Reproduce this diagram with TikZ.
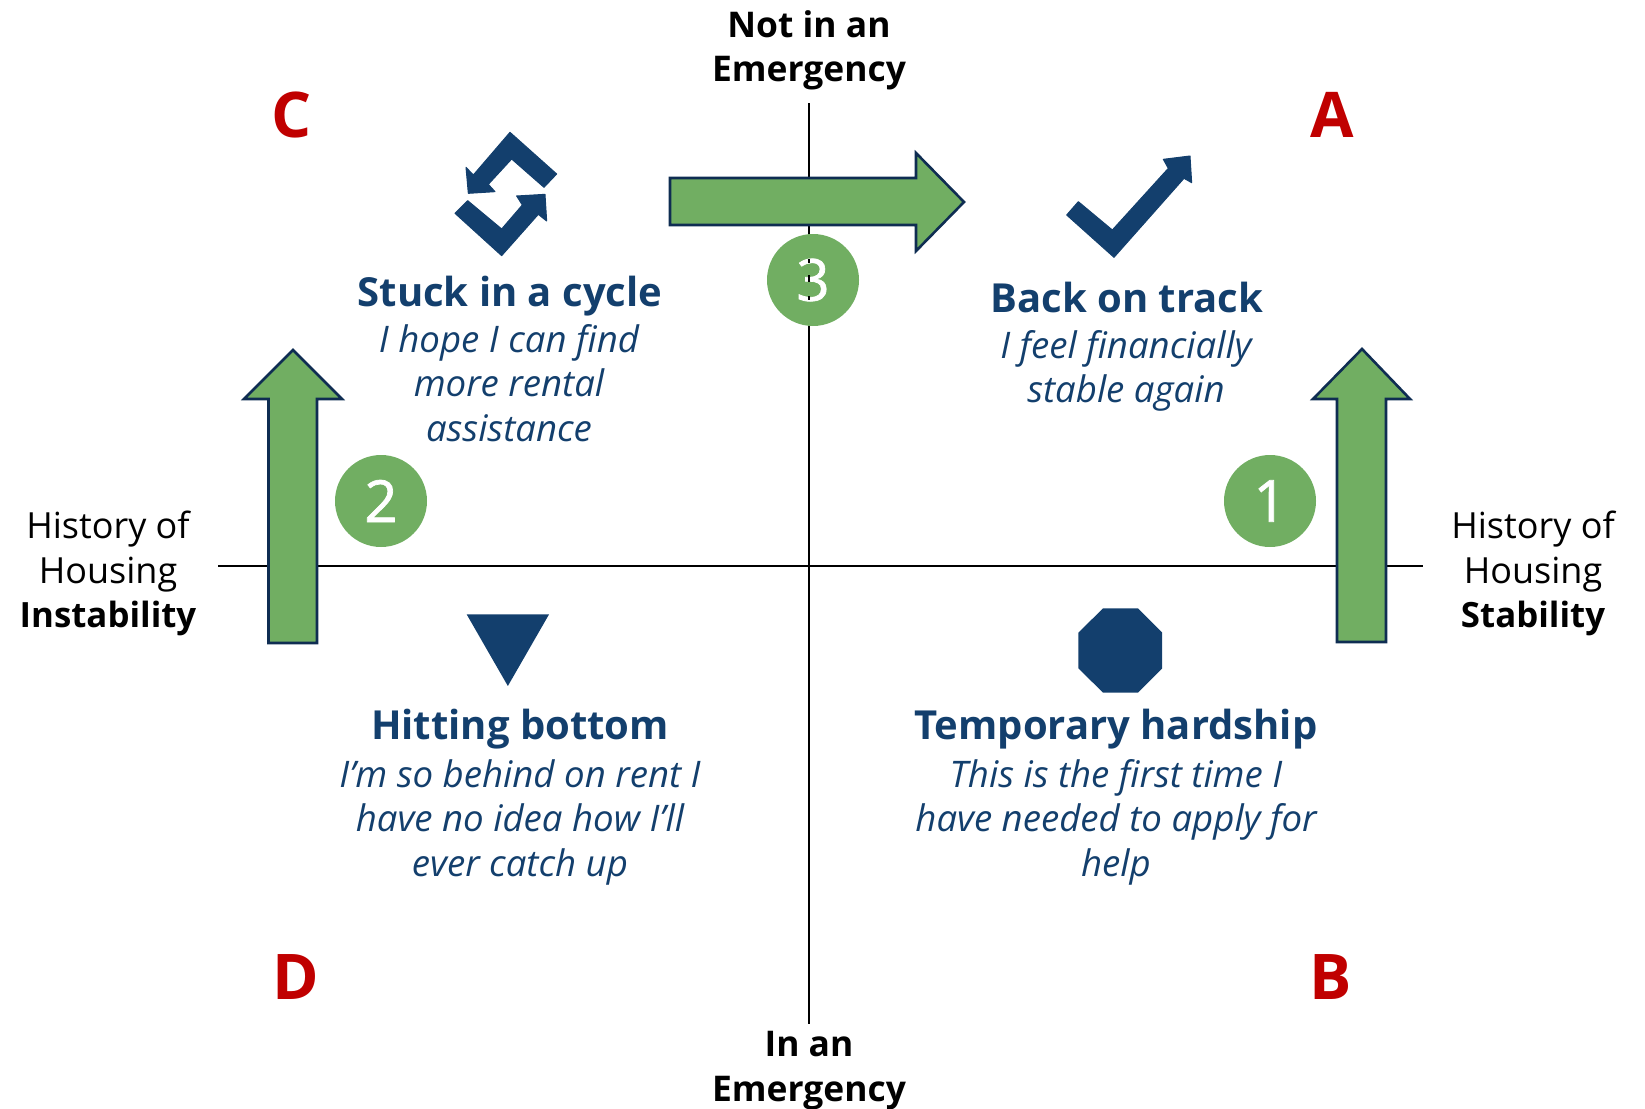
\documentclass[tikz,border=0pt]{standalone}
\usepackage{fontspec}
\setmainfont{Open Sans}
\newfontfamily\digitfont[FakeBold=1.2]{Open Sans}
\definecolor{navy}{HTML}{133F6D}
\definecolor{edge}{HTML}{0F2D52}
\definecolor{grn}{HTML}{71AE62}
\definecolor{redl}{HTML}{C00000}
\tikzset{
 x=1pt,y=-1pt,
 axis/.style={line width=2.4pt,black},
 bigarrow/.style={fill=grn,draw=edge,line width=2.6pt,miter limit=10},
 icon/.style={fill=navy,draw=navy,line width=1pt,line join=round},
 flaticon/.style={fill=navy,draw=none},
 numdot/.style={circle,fill=grn,minimum size=92pt,inner sep=0pt,text=white,font=\digitfont\fontsize{58}{58}\selectfont},
 letter/.style={text=redl,font=\bfseries\fontsize{63}{63}\selectfont,inner sep=0pt},
 heading/.style={text=navy,font=\bfseries\fontsize{40}{45}\selectfont,inner sep=0pt},
 quote/.style={text=navy,font=\itshape\fontsize{36.6}{44.6}\selectfont,align=center,inner sep=0pt},
 axlabel/.style={text=black,font=\fontsize{36}{44.6}\selectfont,align=center,inner sep=0pt},
 boldlabel/.style={text=black,font=\bfseries\fontsize{35.4}{44.6}\selectfont,align=center,inner sep=0pt},
}
\begin{document}
\begin{tikzpicture}
\useasboundingbox (0,0) rectangle (1645,1108);
\coordinate (vt) at (809,103); \coordinate (vb) at (809,1024);
\coordinate (hl) at (218,566); \coordinate (hr) at (1423,566);
\draw[axis] (vt) -- (vb);
\draw[axis] (hl) -- (hr);
% green arrows
\draw[bigarrow] (670,178) -- (916,178) -- (916,153) -- (964,202) -- (916,251) -- (916,225) -- (670,225) -- cycle;
\draw[bigarrow] (268.5,643) -- (268.5,399) -- (244,399) -- (293,350) -- (342,399) -- (317,399) -- (317,643) -- cycle;
\draw[bigarrow] (1337,642) -- (1337,399) -- (1313,399) -- (1362,349) -- (1410,399) -- (1386,399) -- (1386,642) -- cycle;
% number dots
\node[numdot] (n3) at (813,280) {3};
\node[numdot] (n2) at (381,501) {2};
\node[numdot] (n1) at (1270,501) {1};
\draw[axis] (809,259) -- (809,263) (809,275) -- (809,282) (809,296) -- (809,300);
% icons
\begin{scope}[shift={(445,125)},x=0.3333pt,y=-0.3333pt]
\filldraw[icon] (195,22) -- (335,147) -- (297,187) -- (200,102) -- (130,178) -- (150,200) -- (70,205) -- (63,127) -- (85,150) -- cycle;
\filldraw[icon] (30,265) -- (68,227) -- (170,312) -- (232,240) -- (215,213) -- (300,208) -- (305,288) -- (280,268) -- (170,392) -- cycle;
\end{scope}
\begin{scope}[shift={(1040,130)},x=0.3333pt,y=-0.3333pt]
\filldraw[icon] (80,255) -- (115,215) -- (217,300) -- (385,115) -- (370,88) -- (450,78) -- (455,158) -- (432,145) -- (222,382) -- cycle;
\end{scope}
\begin{scope}[shift={(440,590)},x=0.4847pt,y=-0.3333pt]
\fill[flaticon] (55,73) -- (225,73) -- (140,288) -- cycle;
\fill[flaticon] (1368,55) -- (1440,55) -- (1490,128) -- (1490,235) -- (1440,308) -- (1368,308) -- (1317,235) -- (1317,128) -- cycle;
\end{scope}
% letters
\node[letter] (lc) at (292,115) {C};
\node[letter] (la) at (1332,115) {A};
\node[letter] (ld) at (296,977) {D};
\node[letter] (lb) at (1331,977) {B};
% headings
\node[heading] (h1) at (510,296) {Stuck in a cycle};
\node[heading] (h2) at (1127,297) {Back on track};
\node[heading] (h3) at (520,729) {Hitting bottom};
\node[heading] (h4) at (1116,729) {Temporary hardship};
% quotes
\node[quote,anchor=north] (q1) at (509,324) {I hope I can find\\more rental\\assistance};
\node[quote,anchor=north] (q2) at (1126,330) {I feel financially\\stable again};
\node[quote,anchor=north] (q3) at (520,759) {I’m so behind on rent I\\have no idea how I’ll\\ever catch up};
\node[quote,anchor=north] (q4) at (1116,759) {This is the first time I\\have needed to apply for\\help};
% axis labels
\node[boldlabel,anchor=north] (t) at (809,10) {Not in an\\Emergency};
\node[boldlabel,anchor=north] (b) at (809,1031) {In an\\Emergency};
\node[axlabel,anchor=north] (l) at (108,511) {History of\\Housing\\\bfseries\fontsize{34.8}{44.6}\selectfont Instability};
\node[axlabel,anchor=north] (r) at (1533,511) {History of\\Housing\\\bfseries\fontsize{34.8}{44.6}\selectfont Stability};
\end{tikzpicture}
\end{document}
